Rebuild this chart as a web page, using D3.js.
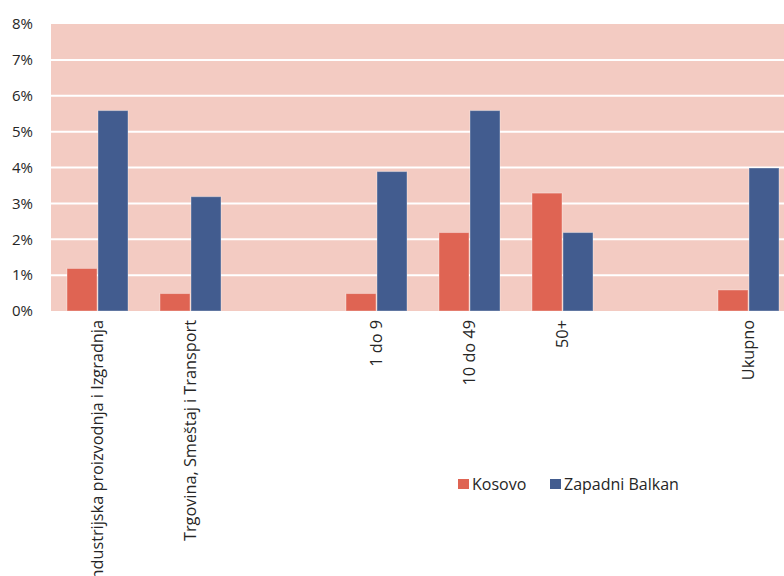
<!DOCTYPE html>
<html>
<head>
<meta charset="utf-8">
<script src="https://cdn.jsdelivr.net/npm/d3@7"></script>
<style>
  html, body { margin: 0; padding: 0; background: #ffffff; }
  svg { display: block; font-family: "Open Sans", Lato, sans-serif; }
</style>
</head>
<body>
<svg id="chart" width="784" height="576"></svg>
<script>
const categories = ["Industrijska proizvodnja i Izgradnja", "Trgovina, Smeštaj i Transport", "", "1 do 9", "10 do 49", "50+", "", "Ukupno"];
const seriesNames = ["Kosovo", "Zapadni Balkan"];
const kosovo = [1.2, 0.5, null, 0.5, 2.2, 3.3, null, 0.6];
const zapadniBalkan = [5.6, 3.2, null, 3.9, 5.6, 2.2, null, 4.0];
const yTickValues = [0, 1, 2, 3, 4, 5, 6, 7, 8];
const yTickLabels = ["0%", "1%", "2%", "3%", "4%", "5%", "6%", "7%", "8%"];

const colors = ["#DF6453", "#425C8F"];
const seriesValues = [kosovo, zapadniBalkan];
const fontFam = "'Open Sans', Lato, sans-serif";

const svg = d3.select("#chart");
const pLeft = 51, pRight = 795, pTop = 24, pBottom = 311;

const x = d3.scaleBand().domain(d3.range(categories.length)).range([pLeft, pRight])
  .paddingInner(1/3).paddingOuter(1/6);
const x1 = d3.scaleBand().domain(seriesNames).range([0, x.bandwidth()]);
const y = d3.scaleLinear().domain([0, 8]).range([pBottom, pTop]);

// plot background
svg.append("rect").attr("x", pLeft).attr("y", pTop)
  .attr("width", pRight - pLeft).attr("height", pBottom - pTop)
  .attr("fill", "#F3CBC2");

// gridlines
svg.append("g").selectAll("line").data(yTickValues.filter(v => v > 0 && v < 8)).join("line")
  .attr("x1", pLeft).attr("x2", pRight)
  .attr("y1", d => y(d)).attr("y2", d => y(d))
  .attr("stroke", "#ffffff").attr("stroke-width", 2);

// y axis labels
const yAxis = d3.axisLeft(y).tickValues(yTickValues)
  .tickFormat((d, i) => yTickLabels[i]).tickSize(0).tickPadding(0);
const gy = svg.append("g").attr("transform", "translate(33,0)").call(yAxis);
gy.select(".domain").remove();
gy.selectAll("text").attr("font-size", 15).attr("fill", "#262626")
  .attr("font-family", fontFam);

// bars
const groups = svg.append("g").selectAll("g").data(d3.range(categories.length)).join("g")
  .attr("transform", i => `translate(${x(i)},0)`);
groups.selectAll("rect")
  .data(i => seriesNames.map((s, k) => ({ s, k, v: seriesValues[k][i] })).filter(d => d.v != null))
  .join("rect")
  .attr("x", d => x1(d.s) + 0.5)
  .attr("width", x1.bandwidth() - 1)
  .attr("y", d => y(d.v) + 0.5)
  .attr("height", d => y(0) - y(d.v) - 0.5)
  .attr("fill", d => colors[d.k])
  .attr("stroke", "rgba(255,255,255,0.35)")
  .attr("stroke-width", 1);

// x axis labels
const xAxis = d3.axisBottom(x).tickFormat(i => categories[i]).tickSize(0).tickPadding(0);
const gx = svg.append("g").attr("transform", `translate(0,${pBottom})`).call(xAxis);
gx.select(".domain").remove();
gx.selectAll("text")
  .attr("font-size", 16.3).attr("fill", "#262626")
  .attr("font-family", fontFam)
  .attr("text-anchor", "end")
  .attr("transform", "rotate(-90)")
  .attr("x", -9).attr("y", 0).attr("dy", "0.35em");

// legend
const legendItems = [{ name: seriesNames[0], x: 458 }, { name: seriesNames[1], x: 550 }];
const lg = svg.append("g").selectAll("g").data(legendItems).join("g")
  .attr("transform", d => `translate(${d.x},479)`);
lg.append("rect").attr("width", 11).attr("height", 10)
  .attr("fill", (d, i) => colors[i]);
lg.append("text").attr("x", 14).attr("y", 10.5)
  .attr("font-size", 16).attr("fill", "#262626")
  .attr("font-family", fontFam)
  .text(d => d.name);
</script>
</body>
</html>
